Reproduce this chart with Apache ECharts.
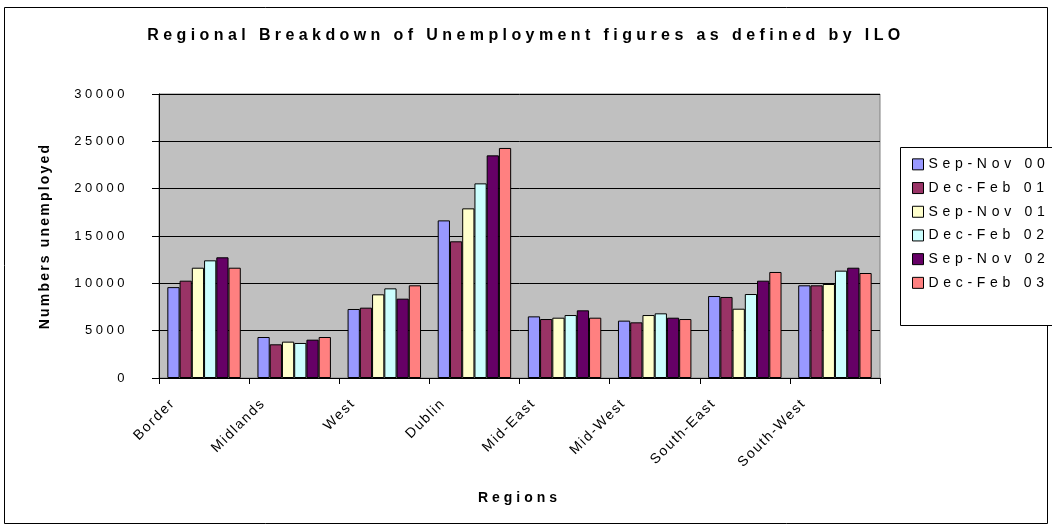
<!DOCTYPE html>
<html>
<head>
<meta charset="utf-8">
<script src="https://cdn.jsdelivr.net/npm/echarts@6/dist/echarts.min.js"></script>
<style>html,body{margin:0;padding:0;background:#fff;}#c{width:1052px;height:529px;}</style>
</head>
<body>
<div id="c"></div>
<script>
// ---- data ----
const categories = ['Border', 'Midlands', 'West', 'Dublin', 'Mid-East', 'Mid-West', 'South-East', 'South-West'];
const seriesNames = ['Sep-Nov 00', 'Dec-Feb 01', 'Sep-Nov 01', 'Dec-Feb 02', 'Sep-Nov 02', 'Dec-Feb 03'];
const sepNov00 = [9600, 4330, 7290, 16650, 6510, 6060, 8660, 9790];
const decFeb01 = [10280, 3560, 7430, 14440, 6230, 5880, 8560, 9790];
const sepNov01 = [11650, 3840, 8840, 17920, 6370, 6650, 7320, 9930];
const decFeb02 = [12430, 3700, 9470, 20560, 6650, 6830, 8870, 11340];
const sepNov02 = [12750, 4050, 8380, 23520, 7150, 6370, 10280, 11650];
const decFeb03 = [11650, 4330, 9790, 24300, 6370, 6230, 11200, 11090];
const yTicks = [0, 5000, 10000, 15000, 20000, 25000, 30000];
const titleText = 'Regional Breakdown of Unemployment figures as defined by ILO';
const xName = 'Regions';
const yName = 'Numbers unemployed';

// ---- letter spacing support (font family marker lsNN = NN/10 px) ----
(function () {
  const P = CanvasRenderingContext2D.prototype;
  if (!('letterSpacing' in P)) return;
  function apply(ctx) {
    const m = /ls(\d+)/.exec(ctx.font || '');
    const v = m ? (parseInt(m[1], 10) / 10) + 'px' : '0px';
    if (ctx.letterSpacing !== v) ctx.letterSpacing = v;
  }
  ['fillText', 'strokeText', 'measureText'].forEach(function (fn) {
    const orig = P[fn];
    P[fn] = function () { apply(this); return orig.apply(this, arguments); };
  });
})();
function F(ls) { return "'Liberation Sans', Arial, ls" + ls; }

const colors = ['#9999FF', '#993366', '#FFFFCC', '#CCFFFF', '#660066', '#FF8080'];
const dataSets = [sepNov00, decFeb01, sepNov01, decFeb02, sepNov02, decFeb03];

const chart = echarts.init(document.getElementById('c'), null, { renderer: 'canvas' });
chart.setOption({
  animation: false,
  backgroundColor: '#ffffff',
  graphic: [
    { type: 'rect', silent: true, z: -10, shape: { x: 4.5, y: 7.5, width: 1043, height: 516 }, style: { fill: 'none', stroke: '#000', lineWidth: 1 } },
    { type: 'rect', silent: true, z: 1, shape: { x: 900.5, y: 147.5, width: 160, height: 178 }, style: { fill: '#fff', stroke: '#000', lineWidth: 1 } }
  ],
  title: {
    text: titleText,
    left: 'center',
    top: 20,
    textStyle: { fontFamily: F(44), fontSize: 16, fontWeight: 'bold', color: '#000' }
  },
  grid: {
    left: 159, right: 172, top: 94, bottom: 151,
    show: true, backgroundColor: '#C0C0C0', borderColor: '#808080', borderWidth: 1
  },
  legend: {
    orient: 'vertical',
    left: 907, top: 150,
    itemWidth: 11, itemHeight: 11, itemGap: 5,
    icon: 'rect',
    itemStyle: { borderColor: '#000', borderWidth: 1 },
    textStyle: { fontFamily: F(47), fontSize: 14, color: '#000' },
    data: seriesNames,
    z: 5
  },
  xAxis: {
    type: 'category',
    data: categories,
    name: xName,
    nameLocation: 'middle',
    nameGap: 111,
    nameTextStyle: { fontFamily: F(40), fontSize: 14, fontWeight: 'bold', color: '#000' },
    axisLine: { lineStyle: { color: '#000', width: 1 } },
    axisTick: { show: true, length: 6, lineStyle: { color: '#000' } },
    axisLabel: {
      interval: 0, rotate: 45, margin: -8,
      padding: [0, 44, 0, 0],
      fontFamily: F(17), fontSize: 14, color: '#000'
    },
    splitLine: { show: false }
  },
  yAxis: {
    type: 'value',
    min: 0, max: 30000, interval: 5000,
    name: yName,
    nameLocation: 'middle',
    nameRotate: 90,
    nameGap: 106,
    nameTextStyle: { fontFamily: F(22), fontSize: 14, fontWeight: 'bold', color: '#000' },
    axisLine: { show: true, lineStyle: { color: '#000', width: 1 } },
    axisTick: { show: true, length: 7, lineStyle: { color: '#000' } },
    axisLabel: {
      margin: 31, fontFamily: F(35), fontSize: 13, color: '#000',
      formatter: function (v) { return yTicks.indexOf(v) >= 0 ? String(v) : ''; }
    },
    splitLine: { show: true, lineStyle: { color: '#000', width: 1 } }
  },
  series: dataSets.map(function (d, i) {
    return {
      name: seriesNames[i],
      type: 'bar',
      data: d,
      barGap: '0%',
      barCategoryGap: '18.5%',
      itemStyle: { color: colors[i], borderColor: '#000', borderWidth: 1 }
    };
  })
});
</script>
</body>
</html>
